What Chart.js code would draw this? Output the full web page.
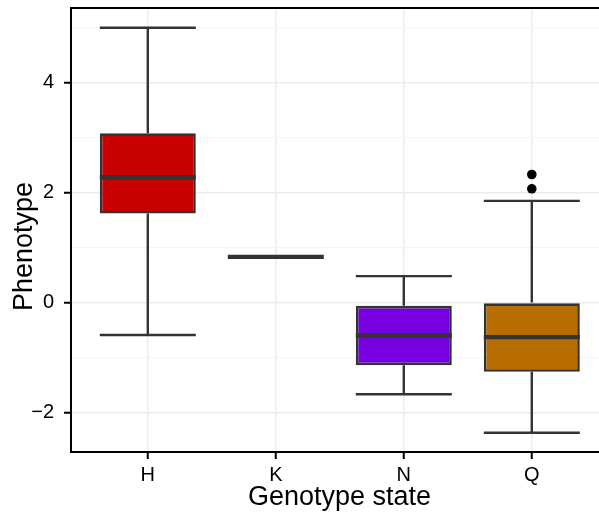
<!DOCTYPE html>
<html>
<head>
<meta charset="utf-8">
<script src="https://cdn.jsdelivr.net/npm/chart.js@4/dist/chart.umd.min.js"></script>
<style>
  html, body { margin: 0; padding: 0; background: #ffffff; }
  #wrap { width: 599px; height: 513px; position: relative; }
</style>
</head>
<body>
<div id="wrap"><canvas id="c" width="599" height="513"></canvas></div>
<script>
// ---- data ----
const categories = ['H', 'K', 'N', 'Q'];
const q1Values = [1.62, 0.83, -1.14, -1.26];
const medianValues = [2.28, 0.83, -0.60, -0.63];
const q3Values = [3.08, 0.83, -0.06, 0.00];
const whiskerLow = [-0.59, 0.83, -1.67, -2.37];
const whiskerHigh = [5.00, 0.83, 0.48, 1.85];
const outlierCategory = [3, 3];
const outlierValues = [2.33, 2.07];
const yTickValues = [-2, -1, 0, 1, 2, 3, 4, 5];

// ---- styles ----
const boxFills = ['#c80000', '#7f7f7f', '#7700e0', '#b86e00'];
const lineColor = '#333333';
const FONT = '"Liberation Sans", Arial, Helvetica, sans-serif';
const HALF_BOX = 0.375;

const boxPlugin = {
  id: 'boxParts',
  beforeDatasetsDraw(chart) {
    const ctx = chart.ctx, x = chart.scales.x, y = chart.scales.y;
    ctx.save();
    ctx.strokeStyle = lineColor;
    ctx.lineWidth = 2.4;
    ctx.lineCap = 'butt';
    categories.forEach((c, i) => {
      const cx = x.getPixelForValue(i);
      const xl = x.getPixelForValue(i - HALF_BOX), xr = x.getPixelForValue(i + HALF_BOX);
      ctx.beginPath();
      ctx.moveTo(cx, y.getPixelForValue(whiskerHigh[i]));
      ctx.lineTo(cx, y.getPixelForValue(q3Values[i]));
      ctx.moveTo(cx, y.getPixelForValue(q1Values[i]));
      ctx.lineTo(cx, y.getPixelForValue(whiskerLow[i]));
      ctx.stroke();
      if (whiskerHigh[i] !== whiskerLow[i]) {
        ctx.beginPath();
        ctx.moveTo(xl, y.getPixelForValue(whiskerHigh[i]));
        ctx.lineTo(xr, y.getPixelForValue(whiskerHigh[i]));
        ctx.moveTo(xl, y.getPixelForValue(whiskerLow[i]));
        ctx.lineTo(xr, y.getPixelForValue(whiskerLow[i]));
        ctx.stroke();
      }
    });
    ctx.restore();
  },
  afterDatasetsDraw(chart) {
    const ctx = chart.ctx, x = chart.scales.x, y = chart.scales.y;
    ctx.save();
    ctx.strokeStyle = lineColor;
    ctx.lineWidth = 4.3;
    categories.forEach((c, i) => {
      const xl = x.getPixelForValue(i - HALF_BOX), xr = x.getPixelForValue(i + HALF_BOX);
      const my = y.getPixelForValue(medianValues[i]);
      ctx.beginPath();
      ctx.moveTo(xl, my);
      ctx.lineTo(xr, my);
      ctx.stroke();
    });
    ctx.restore();
  },
  afterDraw(chart) {
    const ctx = chart.ctx, a = chart.chartArea;
    ctx.save();
    ctx.strokeStyle = '#000000';
    ctx.lineWidth = 2;
    ctx.beginPath();
    ctx.moveTo(a.left - 1, a.top);
    ctx.lineTo(a.right, a.top);
    ctx.stroke();
    ctx.fillStyle = '#000000';
    ctx.font = '27px ' + FONT;
    ctx.textAlign = 'center';
    ctx.textBaseline = 'alphabetic';
    ctx.fillText('Genotype state', 339.5, 505);
    ctx.translate(31.5, 246.5);
    ctx.rotate(-Math.PI / 2);
    ctx.fillText('Phenotype', 0, 0);
    ctx.restore();
  }
};

new Chart(document.getElementById('c'), {
  type: 'bar',
  data: {
    datasets: [
      {
        type: 'bar',
        data: categories.map((c, i) => ({ x: i, y: [q1Values[i], q3Values[i]] })),
        backgroundColor: boxFills,
        borderColor: lineColor,
        borderWidth: 2.6,
        borderSkipped: false,
        categoryPercentage: 1,
        barPercentage: 0.75,
        order: 2
      },
      {
        type: 'scatter',
        data: outlierValues.map((v, i) => ({ x: outlierCategory[i], y: v })),
        pointRadius: 4.8,
        pointBackgroundColor: '#000000',
        pointBorderWidth: 0,
        order: 1
      }
    ]
  },
  options: {
    responsive: false,
    animation: false,
    events: [],
    layout: { autoPadding: false, padding: { top: 8, right: 0, left: 0, bottom: 0 } },
    plugins: { legend: { display: false }, tooltip: { enabled: false }, title: { display: false } },
    scales: {
      x: {
        type: 'linear',
        offset: false,
        min: -0.6,
        max: 3.525,
        afterBuildTicks(scale) { scale.ticks = categories.map((c, i) => ({ value: i })); },
        afterFit(scale) { scale.height = 61; scale.paddingLeft = 0; scale.paddingRight = 0; },
        ticks: {
          callback(v) { return categories[v] !== undefined ? categories[v] : ''; },
          color: '#000000',
          font: { family: FONT, size: 20 },
          padding: 4,
          maxRotation: 0,
          autoSkip: false
        },
        grid: { offset: false, color: '#ebebeb', lineWidth: 1.5, tickColor: '#000000', tickLength: 7, tickWidth: 2 },
        border: { display: true, color: '#000000', width: 2 }
      },
      y: {
        type: 'linear',
        min: -2.72,
        max: 5.36,
        afterBuildTicks(scale) { scale.ticks = yTickValues.map(v => ({ value: v })); },
        afterFit(scale) { scale.width = 71; scale.paddingTop = 0; scale.paddingBottom = 0; },
        ticks: {
          callback(v) { return v % 2 === 0 ? String(v).replace('-', '\u2212') : ''; },
          color: '#000000',
          font: { family: FONT, size: 20 },
          padding: 10,
          autoSkip: false
        },
        grid: {
          color: (c) => (c.tick && c.tick.value % 2 === 0) ? '#ebebeb' : '#f5f5f5',
          lineWidth: (c) => (c.tick && c.tick.value % 2 === 0) ? 1.5 : 1.2,
          tickColor: (c) => (c.tick && c.tick.value % 2 === 0) ? '#000000' : 'rgba(0,0,0,0)',
          tickLength: 7,
          tickWidth: 2
        },
        border: { display: true, color: '#000000', width: 2 }
      }
    }
  },
  plugins: [boxPlugin]
});
</script>
</body>
</html>
